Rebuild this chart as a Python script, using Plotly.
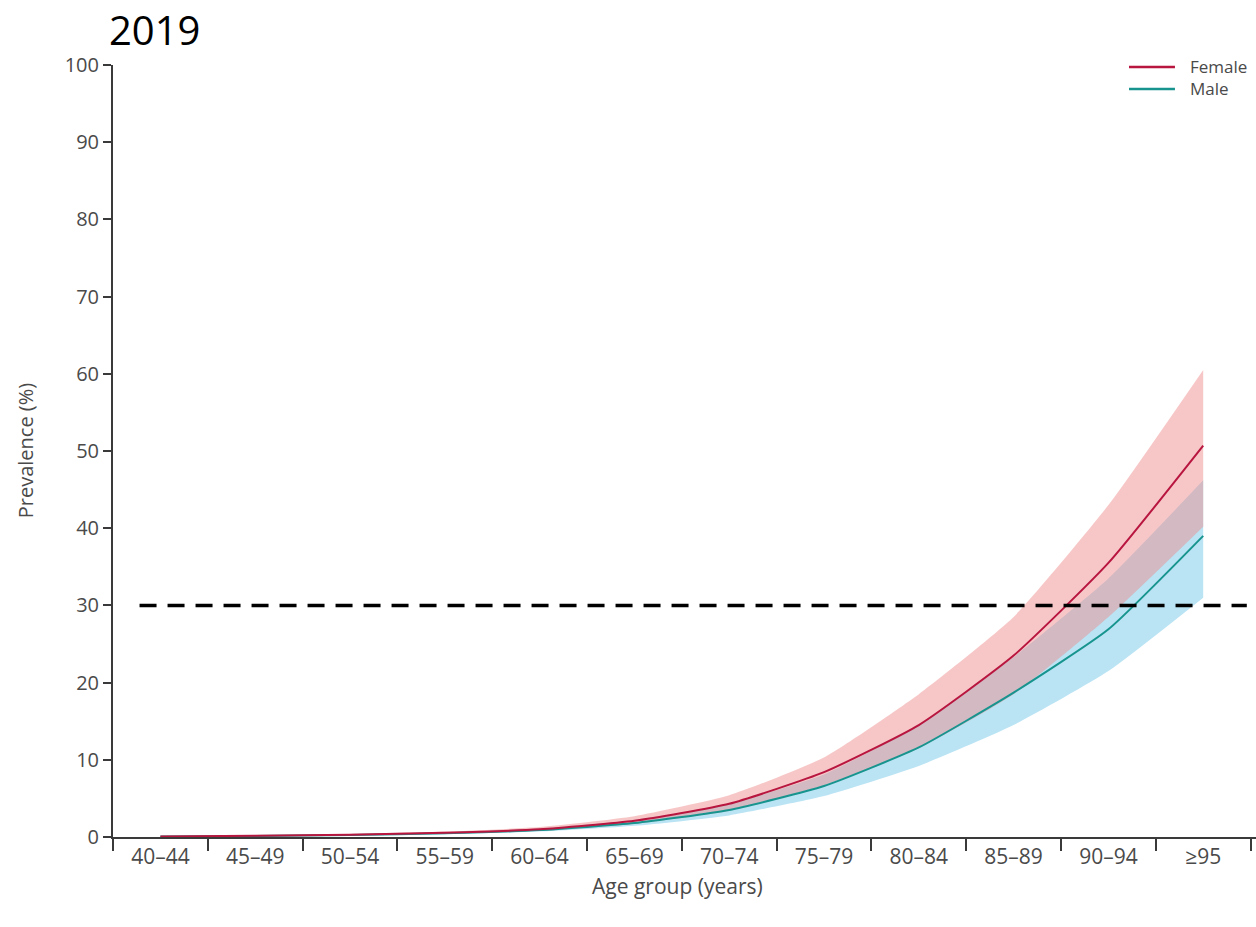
import plotly.graph_objects as go

# Age groups and prevalence (%) by sex, with uncertainty intervals
age_groups = ["40–44", "45–49", "50–54", "55–59", "60–64", "65–69",
              "70–74", "75–79", "80–84", "85–89", "90–94", "≥95"]

female_mean = [0.08, 0.15, 0.30, 0.55, 1.0, 2.1, 4.3, 8.4, 14.5, 23.5, 35.5, 50.7]
female_low = [0.05, 0.10, 0.22, 0.42, 0.8, 1.7, 3.4, 6.7, 11.5, 18.5, 28.5, 40.2]
female_high = [0.11, 0.20, 0.40, 0.70, 1.3, 2.7, 5.4, 10.3, 18.5, 28.5, 43.0, 60.5]

male_mean = [0.07, 0.13, 0.26, 0.48, 0.9, 1.8, 3.5, 6.6, 11.6, 18.7, 26.9, 39.0]
male_low = [0.05, 0.09, 0.20, 0.37, 0.7, 1.45, 2.8, 5.3, 9.2, 14.5, 21.5, 31.0]
male_high = [0.10, 0.18, 0.34, 0.60, 1.1, 2.2, 4.3, 8.1, 14.5, 23.3, 33.5, 46.2]

y_ticks = [0, 10, 20, 30, 40, 50, 60, 70, 80, 90, 100]
threshold = 30

FEMALE_LINE = "#b8163f"
MALE_LINE = "#18948f"
FEMALE_FILL = "rgba(238,135,139,0.47)"
MALE_FILL = "rgb(186,228,244)"
TEXT = "#4a4a4a"
AXIS = "#3a3a3a"
FONT = "Open Sans, Liberation Sans, sans-serif"

fig = go.Figure()

# Uncertainty bands (male drawn first, female translucent over it)
fig.add_trace(go.Scatter(x=age_groups, y=male_low, mode="lines",
                         line=dict(width=0, shape="spline", smoothing=0.5),
                         hoverinfo="skip", showlegend=False))
fig.add_trace(go.Scatter(x=age_groups, y=male_high, mode="lines", fill="tonexty",
                         fillcolor=MALE_FILL,
                         line=dict(width=0, shape="spline", smoothing=0.5),
                         hoverinfo="skip", showlegend=False))
fig.add_trace(go.Scatter(x=age_groups, y=female_low, mode="lines",
                         line=dict(width=0, shape="spline", smoothing=0.5),
                         hoverinfo="skip", showlegend=False))
fig.add_trace(go.Scatter(x=age_groups, y=female_high, mode="lines", fill="tonexty",
                         fillcolor=FEMALE_FILL,
                         line=dict(width=0, shape="spline", smoothing=0.5),
                         hoverinfo="skip", showlegend=False))

# Central estimates
fig.add_trace(go.Scatter(x=age_groups, y=male_mean, mode="lines", name="Male",
                         line=dict(color=MALE_LINE, width=2, shape="spline", smoothing=0.5),
                         showlegend=False))
fig.add_trace(go.Scatter(x=age_groups, y=female_mean, mode="lines", name="Female",
                         line=dict(color=FEMALE_LINE, width=2, shape="spline", smoothing=0.5),
                         showlegend=False))

# Reference line at 30%
fig.add_shape(type="line", xref="x", yref="y", x0=-0.22, x1=11.46,
              y0=threshold, y1=threshold,
              line=dict(color="black", width=3.5, dash="17px,11px"))

# Legend: line samples plus a two-line label block
legend_rows = [(FEMALE_LINE, 0.9974), (MALE_LINE, 0.9689)]
for color, yp in legend_rows:
    fig.add_shape(type="line", xref="paper", yref="paper", x0=0.8889, x1=0.9291,
                  y0=yp, y1=yp, line=dict(color=color, width=2.5))
fig.add_annotation(text="Female<br>Male", xref="paper", yref="paper",
                   x=0.9414, y=0.9832, xanchor="left", yanchor="middle",
                   align="left", showarrow=False, borderpad=0,
                   font=dict(family=FONT, size=17, color=TEXT))

# Title and axis titles
fig.add_annotation(text="2019", xref="paper", yref="paper", x=-0.0044, y=1.046,
                   xanchor="left", yanchor="middle", showarrow=False, borderpad=0,
                   font=dict(family="Open Sans, sans-serif", size=40, color="black"))
fig.add_annotation(text="Prevalence (%)", xref="paper", yref="paper", x=-0.077, y=0.501,
                   xanchor="center", yanchor="middle", textangle=-90, showarrow=False,
                   font=dict(family=FONT, size=20, color=TEXT))
fig.add_annotation(text="Age group (years)", xref="paper", yref="paper", x=0.494, y=-0.063,
                   xanchor="center", yanchor="middle", showarrow=False,
                   font=dict(family=FONT, size=21, color=TEXT))

fig.update_layout(
    width=1256, height=927,
    margin=dict(l=113, r=0, t=65, b=90),
    paper_bgcolor="white", plot_bgcolor="white",
    showlegend=False,
    xaxis=dict(type="category", categoryorder="array", categoryarray=age_groups,
               range=[-0.5, 11.557], tickson="boundaries", ticks="outside",
               ticklen=12, tickwidth=2, tickcolor=AXIS,
               showline=True, linecolor=AXIS, linewidth=2,
               showgrid=False, zeroline=False,
               tickfont=dict(family=FONT, size=21, color=TEXT)),
    yaxis=dict(range=[0, 100], tickvals=y_ticks, ticks="outside",
               ticklen=8, tickwidth=2, tickcolor=AXIS,
               showline=True, linecolor=AXIS, linewidth=2,
               showgrid=False, zeroline=False,
               tickfont=dict(family=FONT, size=20, color=TEXT)),
)

fig.write_html("out.html")
